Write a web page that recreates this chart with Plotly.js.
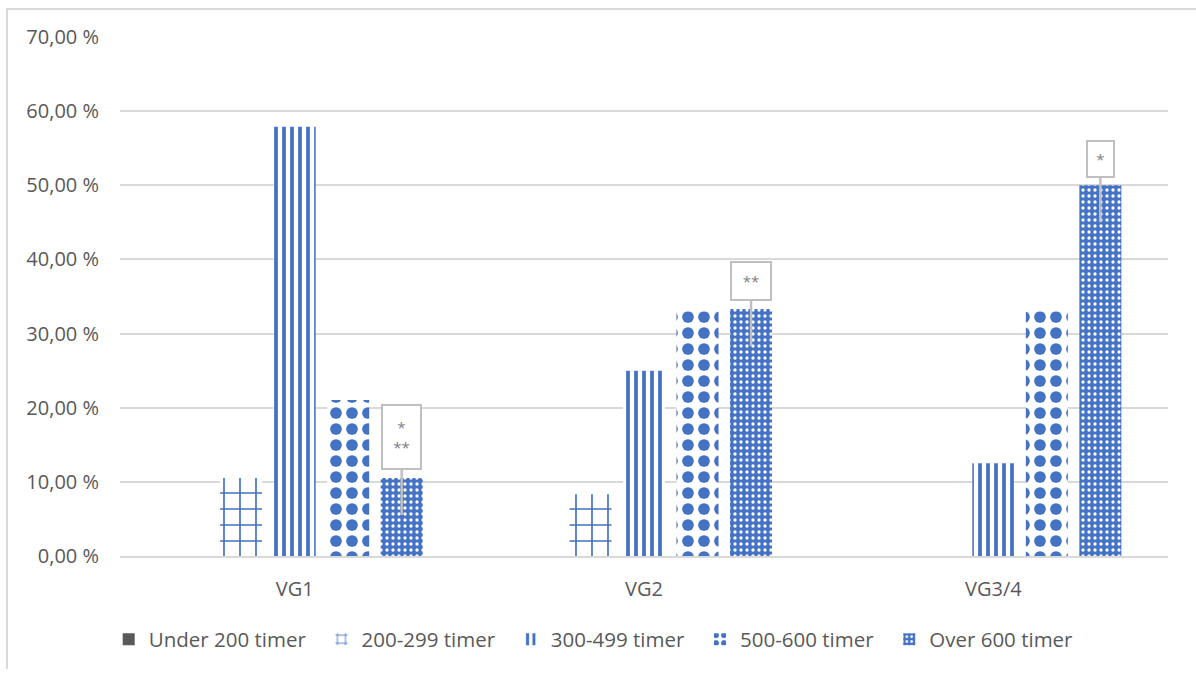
<!DOCTYPE html>
<html>
<head>
<meta charset="utf-8">
<script src="https://cdn.plot.ly/plotly-3.0.1.min.js"></script>
<style>
  html, body { margin: 0; padding: 0; background: #ffffff; }
  #wrap { position: relative; width: 1196px; height: 675px; }
  #chart { width: 1196px; height: 675px; }
  #frame { position: absolute; left: 6px; top: 8px; right: 0; bottom: 6px;
           border-top: 2px solid #D9D9D9; border-left: 2px solid #D9D9D9;
           pointer-events: none; }
</style>
</head>
<body>
<div id="wrap">
  <div id="chart"></div>
  <div id="frame"></div>
</div>
<script>
// Share of respondents (%) per school level, grouped by hours band
const categories = ['VG1', 'VG2', 'VG3/4'];
const seriesNames = ['Under 200 timer', '200-299 timer', '300-499 timer', '500-600 timer', 'Over 600 timer'];
const under200 = [0, 0, 0];
const h200_299 = [10.53, 8.33, 0];
const h300_499 = [57.89, 25.0, 12.5];
const h500_600 = [21.05, 33.0, 33.0];
const over600 = [10.53, 33.33, 50.0];
// Callout markers attached to the "Over 600 timer" bars
const calloutText = ['*<br>**', '**', '*'];
const yTicks = [0, 10, 20, 30, 40, 50, 60, 70];
const yTickText = yTicks.map(v => v.toFixed(2).replace('.', ',') + ' %');

const BLUE = '#4472C4';
const GREY = '#595959';
const FONT = '"Open Sans", "Noto Sans", sans-serif';
const GAP = '\u00a0\u00a0';

const bargap = 0.234;
const bargroupgap = 0.215;

const traces = [
  { name: seriesNames[0], y: under200, marker: { color: GREY, line: { width: 0 } } },
  { name: seriesNames[1], y: h200_299,
    marker: { color: '#ffffff', line: { width: 0 },
      pattern: { shape: '+', fgcolor: BLUE, bgcolor: '#ffffff', size: 16, solidity: 0.2, fillmode: 'replace' } } },
  { name: seriesNames[2], y: h300_499,
    marker: { color: '#ffffff', line: { width: 0 },
      pattern: { shape: '|', fgcolor: BLUE, bgcolor: '#ffffff', size: 8, solidity: 0.47, fillmode: 'replace' } } },
  { name: seriesNames[3], y: h500_600,
    marker: { color: '#ffffff', line: { width: 0 },
      pattern: { shape: '.', fgcolor: BLUE, bgcolor: '#ffffff', size: 16, solidity: 0.42, fillmode: 'replace' } } },
  { name: seriesNames[4], y: over600,
    marker: { color: BLUE, line: { width: 0 },
      pattern: { shape: '.', fgcolor: '#ffffff', bgcolor: BLUE, size: 6, solidity: 0.24, fillmode: 'replace' } } }
].map((t, i) => Object.assign({ type: 'bar', x: categories, hoverinfo: 'x+y+name' }, t,
  { name: t.name + (i < seriesNames.length - 1 ? GAP : '') }));

// Horizontal position of the last series' bar inside each group
const nSeries = traces.length;
const slot = (1 - bargap) / nSeries;
const lastOffset = (nSeries - 1 - (nSeries - 1) / 2) * slot;

const boxW = [37, 38, 25];
const boxH = [62, 36, 34];
const boxAy = [-78, -65, -63];
const annotations = categories.map((c, i) => ({
  x: i + lastOffset, y: over600[i], xref: 'x', yref: 'y',
  yshift: -37,
  text: calloutText[i],
  showarrow: true, arrowhead: 0, arrowwidth: 2.5, arrowcolor: '#BFBFBF',
  ax: 0, ay: boxAy[i],
  bgcolor: '#ffffff', bordercolor: '#BFBFBF', borderwidth: 2, borderpad: 0,
  width: boxW[i], height: boxH[i],
  font: { family: FONT, size: 15, color: '#7F7F7F' }
}));

const layout = {
  width: 1196, height: 675,
  paper_bgcolor: '#ffffff', plot_bgcolor: '#ffffff',
  margin: { l: 120, r: 28, t: 37, b: 119 },
  barmode: 'group', bargap: bargap, bargroupgap: bargroupgap,
  font: { family: FONT, size: 20, color: GREY },
  showlegend: true,
  legend: { orientation: 'h', x: 0.452, xanchor: 'center', y: -0.122, yanchor: 'top',
            font: { family: FONT, size: 20.5, color: GREY }, itemclick: false, traceorder: 'normal' },
  xaxis: { type: 'category', showgrid: false, showline: true, linecolor: '#D9D9D9', linewidth: 1.5,
           ticks: '', ticklabelstandoff: 14, tickfont: { family: FONT, size: 20, color: GREY } },
  yaxis: { range: [0, 70], tickmode: 'array', tickvals: yTicks, ticktext: yTickText,
           showgrid: true, gridcolor: '#D9D9D9', gridwidth: 2, zeroline: false, showline: false,
           ticks: '', ticklabelstandoff: 20, tickfont: { family: FONT, size: 20, color: GREY } },
  annotations: annotations
};

Plotly.newPlot('chart', traces, layout, { displayModeBar: false, staticPlot: true });
</script>
</body>
</html>
